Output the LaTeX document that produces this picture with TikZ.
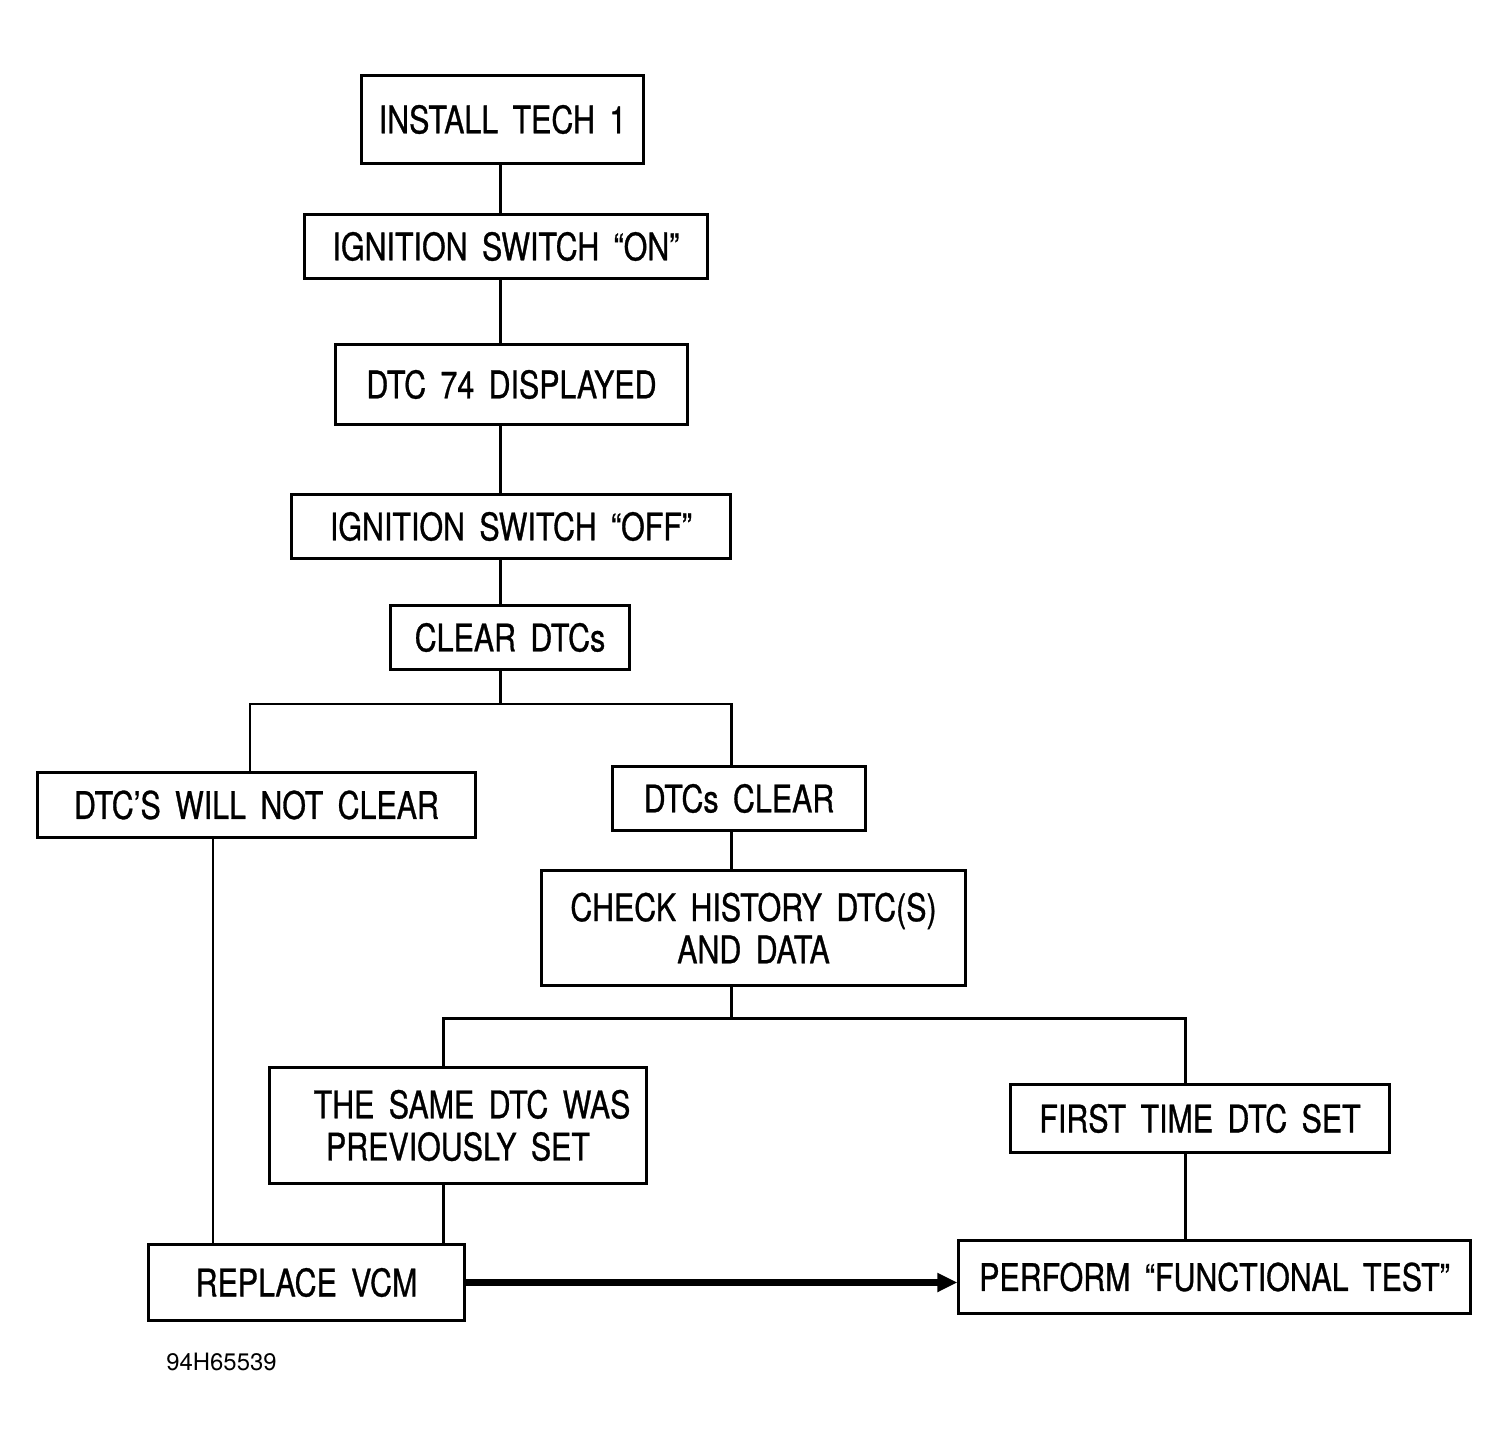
\documentclass[tikz,border=0pt]{standalone}
\usepackage{fontspec}
\setmainfont[FakeStretch=0.8, WordSpace=1.7, FakeBold=0.8]{TeX Gyre Heros}
\newfontfamily\tagfont{TeX Gyre Heros}
\usetikzlibrary{arrows.meta}

\begin{document}
\begin{tikzpicture}[x=0.01cm, y=-0.01cm,
   box/.style={draw, rectangle, line width=0.85pt, inner sep=0pt, align=center,
               font=\fontsize{10.8pt}{12pt}\selectfont},
   wire/.style={line width=0.85pt},
   bigarrow/.style={line width=2pt, -{Triangle[length=0.2cm, width=0.18cm]}}]
   \useasboundingbox (0,0) rectangle (1509,1446);

   \node[box, minimum width=2.81cm, minimum height=0.87cm] (tech)      at (502.5,119.5) {INSTALL TECH 1};
   \node[box, minimum width=4.02cm, minimum height=0.63cm] (ignon)     at (506,246.5)   {IGNITION SWITCH “ON”};
   \node[box, minimum width=3.51cm, minimum height=0.79cm] (dtc74)     at (511.5,384.5) {DTC 74 DISPLAYED};
   \node[box, minimum width=4.38cm, minimum height=0.63cm] (ignoff)    at (511,526.5)   {IGNITION SWITCH “OFF”};
   \node[box, minimum width=2.38cm, minimum height=0.63cm] (clear)     at (510,637.5)   {CLEAR DTCs};
   \node[box, minimum width=4.37cm, minimum height=0.64cm] (wontclear) at (256.5,805)   {DTC’S WILL NOT CLEAR};
   \node[box, minimum width=2.52cm, minimum height=0.63cm] (dtcclear)  at (739,798.5)   {DTCs CLEAR};
   \node[box, minimum width=4.23cm, minimum height=1.14cm] (history)   at (753.5,928)   {CHECK HISTORY DTC(S)\\AND DATA};
   \node[box, minimum width=3.76cm, minimum height=1.15cm] (same)      at (458,1125.5)  {\hspace*{0.28cm}THE SAME DTC WAS\\PREVIOUSLY SET};
   \node[box, minimum width=3.78cm, minimum height=0.67cm] (first)     at (1200,1118.5) {FIRST TIME DTC SET};
   \node[box, minimum width=3.15cm, minimum height=0.75cm] (replace)   at (306.5,1282.5){REPLACE VCM};
   \node[box, minimum width=5.11cm, minimum height=0.72cm] (perform)   at (1214.5,1277) {PERFORM “FUNCTIONAL TEST”};
   \node[inner sep=0pt, font=\tagfont\fontsize{6.8pt}{8pt}\selectfont] (tag) at (221.5,1362) {94H65539};

   \coordinate (spine) at (500,0);
   \coordinate (fork1) at (500,704);
   \coordinate (lb) at (250,704);
   \coordinate (rb) at (731,704);
   \coordinate (fork2) at (731,1018);
   \coordinate (ll) at (443,1018);
   \coordinate (rr) at (1185,1018);
   \coordinate (lv) at (213,0);

   \draw[wire] (tech.south -| spine)   -- (ignon.north -| spine);
   \draw[wire] (ignon.south -| spine)  -- (dtc74.north -| spine);
   \draw[wire] (dtc74.south -| spine)  -- (ignoff.north -| spine);
   \draw[wire] (ignoff.south -| spine) -- (clear.north -| spine);
   \draw[wire] (clear.south -| spine)  -- (fork1);
   \draw[wire] (wontclear.north -| lb) -- (lb) -- (rb) -- (dtcclear.north -| rb);
   \draw[wire] (dtcclear.south -| rb)  -- (history.north -| rb);
   \draw[wire] (history.south -| fork2) -- (fork2);
   \draw[wire] (same.north -| ll) -- (ll) -- (rr) -- (first.north -| rr);
   \draw[wire] (same.south -| ll)      -- (replace.north -| ll);
   \draw[wire] (wontclear.south -| lv) -- (replace.north -| lv);
   \draw[wire] (first.south -| rr)     -- (perform.north -| rr);
   \draw[bigarrow] (replace.east) -- (replace.east -| perform.west);
\end{tikzpicture}
\end{document}
